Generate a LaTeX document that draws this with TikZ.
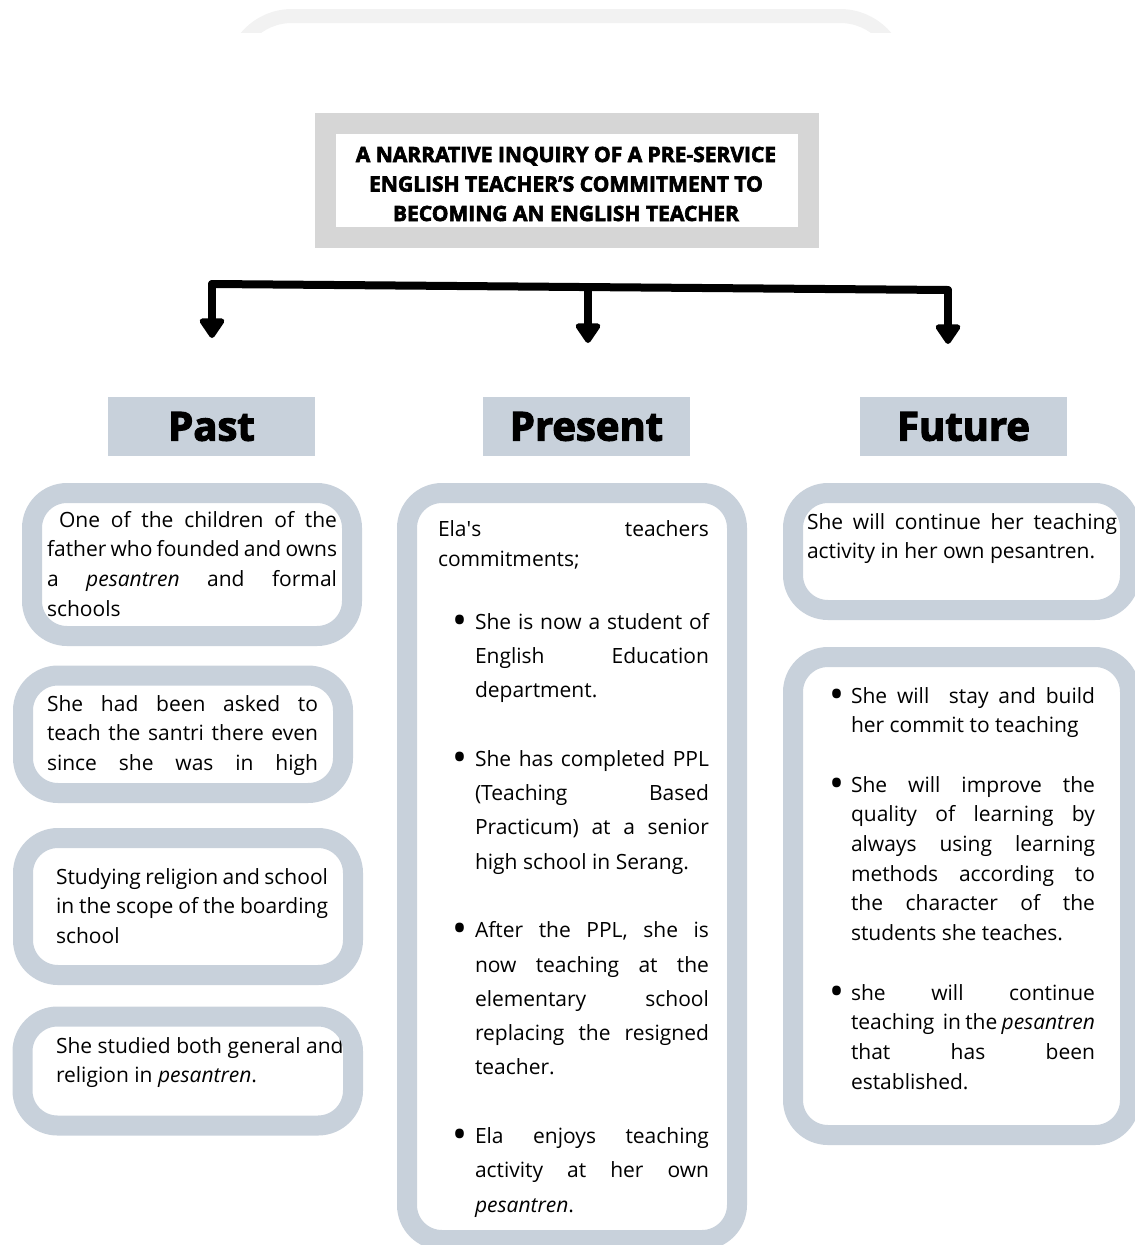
\documentclass[tikz,border=0pt]{standalone}
\usepackage{fontspec}
\setmainfont{Open Sans}
\usetikzlibrary{arrows.meta}
\definecolor{slate}{RGB}{200,209,219}
\definecolor{tgray}{RGB}{214,214,214}
\definecolor{arcgray}{RGB}{242,242,242}
\newlength\bw
\newlength\tw
\newcommand\jl[1]{\makebox[\linewidth][s]{#1}\\}
\newcommand\bj[2]{\makebox[\bw][l]{#1}\makebox[\tw][s]{#2}\\}
\newcommand\bn[2]{\makebox[\bw][l]{#1}#2\\}
\newcommand\blank{\mbox{}\\}
\newcommand\dotb{\raisebox{-5pt}{\scalebox{1.9}{•}}}
\newcommand\body{\fontsize{21}{29.7}\selectfont}
\newcommand\bodyp{\fontsize{21}{34.3}\selectfont}
\tikzset{
  frame/.style={draw=slate, line width=20pt, rounded corners=35pt, inner sep=0pt},
  hdr/.style={fill=slate, minimum width=207pt, minimum height=59pt, inner sep=0pt, font=\fontsize{40}{40}\selectfont\bfseries\addfontfeatures{FakeBold=3}},
  txt/.style={anchor=base west, inner sep=0pt, outer sep=0pt},
  arr/.style={line width=8pt, line join=round, line cap=round},
  tip/.style={-{Triangle[length=22pt,width=28pt,round]}}
}
\begin{document}
\begin{tikzpicture}[x=1pt,y=-1pt]
\useasboundingbox (0,0) rectangle (1135,1245);
% faint top arc
\begin{scope}
\clip (0,0) rectangle (1135,32);
\draw[arcgray, line width=14pt, rounded corners=60pt] (232,16) rectangle (900,200);
\end{scope}
% title
\node[draw=tgray, line width=21pt, minimum width=482.5pt, minimum height=114pt, inner sep=0pt] (titlebox) at (566.75,180.5) {};
\node[anchor=base, inner sep=0pt] (title) at (566,162) {\parbox[t]{470pt}{\centering\fontsize{21}{29.5}\selectfont\bfseries\addfontfeatures{FakeBold=3}A NARRATIVE INQUIRY OF A PRE-SERVICE\\ ENGLISH TEACHER’S COMMITMENT TO\\ BECOMING AN ENGLISH TEACHER}};
% arrows
\coordinate (hl) at (212,284);
\coordinate (hm) at (588,287);
\coordinate (hr) at (948,290);
\coordinate (tl) at (212,338);
\coordinate (tm) at (588,343);
\coordinate (tr) at (948,344);
\draw[arr] (hl) -- (hr);
\draw[arr, tip] (hl) -- (tl);
\draw[arr, tip] (hm) -- (tm);
\draw[arr, tip] (hr) -- (tr);
% headers
\node[hdr] (past) at (211.5,426.5) {\raisebox{-2pt}{Past}};
\node[hdr] (present) at (586.5,426.5) {\raisebox{-2pt}{Present}};
\node[hdr] (future) at (963.5,426.5) {\raisebox{-2pt}{Future}};
% past texts
\node[txt] (t1) at (47,527) {\parbox[t]{290pt}{\body
\jl{\hspace*{12pt}One of the children of the}
\jl{father who founded and owns}
\jl{a \textit{pesantren} and formal}
schools}};
\node[txt] (t2) at (47,711) {\parbox[t]{271pt}{\body
\jl{She had been asked to}
\jl{teach the santri there even}
\jl{since she was in high}}};
\node[txt] (t3) at (56,884) {\parbox[t]{272pt}{\body
Studying religion and school\\
in the scope of the boarding\\
school}};
\node[txt] (t4) at (56,1053) {\parbox[t]{320pt}{\body
She studied both general and\\
religion in \textit{pesantren}.}};
% present texts
\node[txt] (p0) at (438,536) {\parbox[t]{271pt}{\fontsize{21}{30}\selectfont
\jl{Ela\textquotesingle s teachers}
commitments;}};
\node[txt] (p1) at (452,629) {\parbox[t]{257pt}{\bodyp\setlength\bw{23pt}\setlength\tw{234pt}%
\bj{\dotb}{She is now a student of}
\bj{}{English Education}
\bn{}{department.}
\blank
\bj{\dotb}{She has completed PPL}
\bj{}{(Teaching Based}
\bj{}{Practicum) at a senior}
\bn{}{high school in Serang.}
\blank
\bj{\dotb}{After the PPL, she is}
\bj{}{now teaching at the}
\bj{}{elementary school}
\bj{}{replacing the resigned}
\bn{}{teacher.}
\blank
\bj{\dotb}{Ela enjoys teaching}
\bj{}{activity at her own}
\makebox[\bw][l]{}\textit{pesantren}.}};
% future texts
\node[txt] (f0) at (807,529) {\parbox[t]{310pt}{\body
\jl{She will continue her teaching}
activity in her own pesantren.}};
\node[txt] (f1) at (829,703) {\parbox[t]{266pt}{\body\setlength\bw{22pt}\setlength\tw{244pt}%
\bj{\dotb}{She will \ stay and build}
\bn{}{her commit to teaching}
\blank
\bj{\dotb}{She will improve the}
\bj{}{quality of learning by}
\bj{}{always using learning}
\bj{}{methods according to}
\bj{}{the character of the}
\bn{}{students she teaches.}
\blank
\bj{\dotb}{she will continue}
\bj{}{teaching \ in the \textit{pesantren}}
\bj{}{that has been}
\makebox[\bw][l]{}established.}};
% frames on top
\node[frame, minimum width=320pt, minimum height=143pt] (pastA) at (192,564.5) {};
\node[frame, minimum width=320pt, minimum height=117.5pt] (pastB) at (183,734.25) {};
\node[frame, minimum width=330pt, minimum height=137pt] (pastC) at (188,906.5) {};
\node[frame, minimum width=330.5pt, minimum height=109pt] (pastD) at (187.75,1071) {};
\node[frame, minimum width=330pt, minimum height=747pt] (presA) at (572,866.5) {};
\node[frame, minimum width=337pt, minimum height=117pt] (futA) at (961.5,551.5) {};
\node[frame, minimum width=337pt, minimum height=478pt] (futB) at (961.5,896) {};
\end{tikzpicture}
\end{document}
